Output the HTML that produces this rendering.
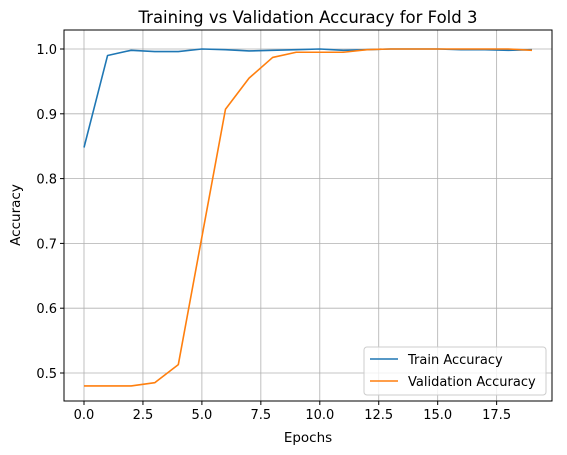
<!DOCTYPE html>
<html><head><meta charset="utf-8"><style>
body{margin:0;background:#fff;}
svg{display:block;font-family:"DejaVu Sans","Liberation Sans",sans-serif;}
</style></head><body>
<svg id="chart" width="567" height="455">
<rect x="0" y="0" width="567" height="455" fill="#fff"/>
<text x="308" y="23" text-anchor="middle" font-size="16.5">Training vs Validation Accuracy for Fold 3</text>
<g id="grid"></g>
<g id="ticks"></g>
<g id="lines"></g>
<rect x="64" y="30" width="488" height="371" fill="none" stroke="#000" stroke-width="1"/>
<text x="308" y="442" text-anchor="middle" font-size="13.5">Epochs</text>
<text x="20" y="215" text-anchor="middle" font-size="13.5" transform="rotate(-90 20 215)">Accuracy</text>
<g>
<rect x="364" y="347" width="182" height="48" rx="3" fill="#fff" fill-opacity="0.8" stroke="#ccc"/>
<line x1="370" y1="359" x2="398" y2="359" stroke="#1f77b4" stroke-width="1.5"/>
<text x="408" y="364" font-size="13">Train Accuracy</text>
<line x1="370" y1="381" x2="398" y2="381" stroke="#ff7f0e" stroke-width="1.5"/>
<text x="408" y="386" font-size="13">Validation Accuracy</text>
</g>
</svg>
<script>
const epochs=[0,1,2,3,4,5,6,7,8,9,10,11,12,13,14,15,16,17,18,19];
const trainAcc=[0.848,0.990,0.998,0.996,0.996,1.0,0.999,0.997,0.998,0.999,1.0,0.998,0.999,1.0,1.0,1.0,0.999,0.999,0.998,0.999];
const valAcc=[0.480,0.480,0.480,0.485,0.513,0.710,0.907,0.955,0.987,0.995,0.995,0.995,0.999,1.0,1.0,1.0,1.0,1.0,1.0,0.998];
const xTicks=[0,2.5,5,7.5,10,12.5,15,17.5];
const yTicks=[0.5,0.6,0.7,0.8,0.9,1.0];
const NS="http://www.w3.org/2000/svg";
function xs(v){return 84+v*(448/19);}
function ys(v){return 373-(v-0.5)*648;}
const grid=document.getElementById('grid'),ticks=document.getElementById('ticks'),lines=document.getElementById('lines');
function mk(tag,attrs,parent){const e=document.createElementNS(NS,tag);for(const k in attrs)e.setAttribute(k,attrs[k]);parent.appendChild(e);return e;}
xTicks.forEach(t=>{const x=xs(t);
 const g=mk('line',{x1:x,x2:x,y1:30,y2:401,stroke:'#b0b0b0','stroke-width':0.8},grid);
 
 
 mk('line',{x1:x,x2:x,y1:401,y2:405,stroke:'#000'},ticks);
 const tx=mk('text',{x:x,y:419,'text-anchor':'middle','font-size':13},ticks);
 tx.textContent=t.toFixed(1);
 
 
});
yTicks.forEach(t=>{const y=ys(t);
 const g=mk('line',{x1:64,x2:552,y1:y,y2:y,stroke:'#b0b0b0','stroke-width':0.8},grid);
 
 
 mk('line',{x1:60,x2:64,y1:y,y2:y,stroke:'#000'},ticks);
 const tx=mk('text',{x:57,y:y+5,'text-anchor':'end','font-size':13},ticks);
 tx.textContent=t.toFixed(1);
 
 
});
function series(vals,color,name){
 const p=mk('polyline',{points:vals.map((v,i)=>xs(epochs[i])+','+ys(v)).join(' '),fill:'none',stroke:color,'stroke-width':1.6,'stroke-linejoin':'round'},lines);
 
 
}
series(trainAcc,'#1f77b4','train-accuracy-line');
series(valAcc,'#ff7f0e','validation-accuracy-line');
</script>
</body></html>
